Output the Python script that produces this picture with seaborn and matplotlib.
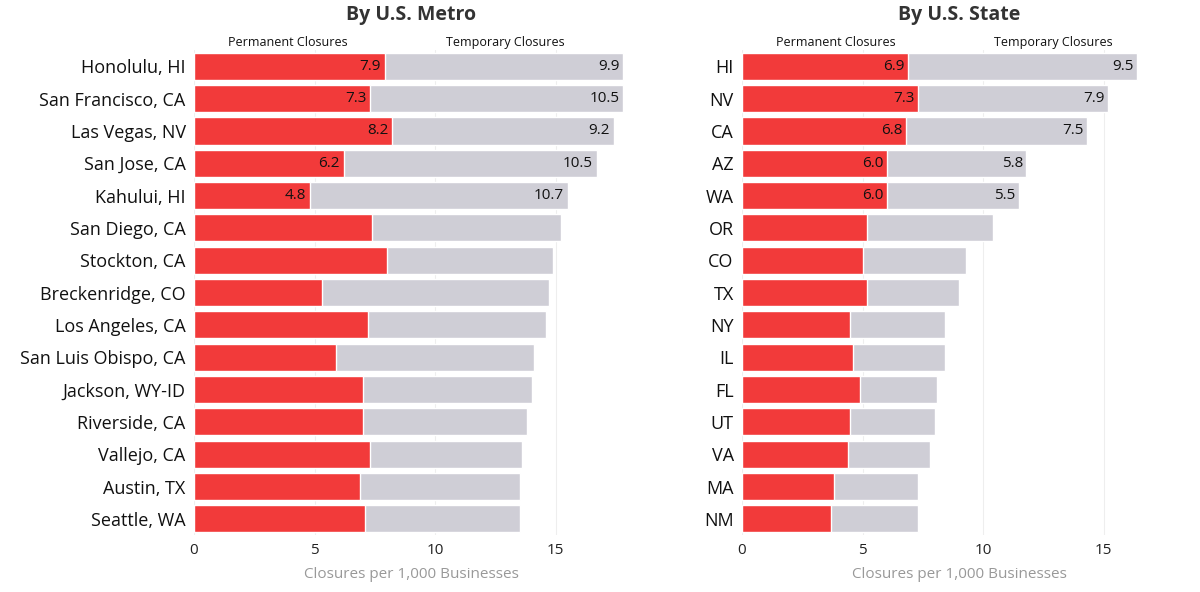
import matplotlib
matplotlib.use("Agg")
import matplotlib.pyplot as plt
import seaborn as sns
import pandas as pd

metros = ["Honolulu, HI","San Francisco, CA","Las Vegas, NV","San Jose, CA","Kahului, HI","San Diego, CA",
          "Stockton, CA","Breckenridge, CO","Los Angeles, CA","San Luis Obispo, CA","Jackson, WY-ID",
          "Riverside, CA","Vallejo, CA","Austin, TX","Seattle, WA"]
metro_perm = [7.9,7.3,8.2,6.2,4.8,7.4,8.0,5.3,7.2,5.9,7.0,7.0,7.3,6.9,7.1]
metro_temp = [9.9,10.5,9.2,10.5,10.7,7.8,6.9,9.4,7.4,8.2,7.0,6.8,6.3,6.6,6.4]
metro_labeled = 5

states = ["HI","NV","CA","AZ","WA","OR","CO","TX","NY","IL","FL","UT","VA","MA","NM"]
state_perm = [6.9,7.3,6.8,6.0,6.0,5.2,5.0,5.2,4.5,4.6,4.9,4.5,4.4,3.8,3.7]
state_temp = [9.5,7.9,7.5,5.8,5.5,5.2,4.3,3.8,3.9,3.8,3.2,3.5,3.4,3.5,3.6]
state_labeled = 5

sns.set_style("white")
plt.rcParams['font.family'] = ['Open Sans', 'DejaVu Sans']

RED = "#f23a3a"
GRAY = "#cfced6"

fig = plt.figure(figsize=(12, 5.92), dpi=100)
axL = fig.add_axes([0.1617, 0.0963, 0.3617, 0.819])
axR = fig.add_axes([0.6183, 0.0963, 0.3617, 0.819])

def draw(ax, cats, perm, temp, nlab, title):
    df = pd.DataFrame({"cat": cats, "perm": perm, "total": [p + t for p, t in zip(perm, temp)]})
    sns.barplot(data=df, y="cat", x="total", color=GRAY, saturation=1, width=0.84, ax=ax, orient="h")
    sns.barplot(data=df, y="cat", x="perm", color=RED, saturation=1, width=0.84, ax=ax, orient="h")
    ax.set_xlim(0, 18)
    ax.set_ylim(len(cats) - 0.5, -0.5)
    ax.set_xticks([0, 5, 10, 15])
    ax.tick_params(axis="x", labelsize=11, length=0, pad=6, colors="#222222")
    ax.tick_params(axis="y", labelsize=13, length=0, pad=6, colors="#111111")
    ax.set_ylabel("")
    ax.set_xlabel("Closures per 1,000 Businesses", fontsize=11, color="#999999", labelpad=6)
    ax.grid(axis="x", color="#eeeeee", lw=0.8)
    ax.set_axisbelow(True)
    for s in ax.spines.values():
        s.set_visible(False)
    for i in range(nlab):
        ax.text(perm[i] - 0.15, i, f"{perm[i]:.1f}", ha="right", va="center", fontsize=11, color="#111111")
        ax.text(perm[i] + temp[i] - 0.15, i, f"{temp[i]:.1f}", ha="right", va="center", fontsize=11, color="#111111")
    ax.text(3.9, -0.55, "Permanent Closures", ha="center", va="bottom", fontsize=9, color="#111111")
    ax.text(12.9, -0.55, "Temporary Closures", ha="center", va="bottom", fontsize=9, color="#111111")
    ax.set_title(title, fontsize=14, fontweight="bold", color="#333333", pad=22)

draw(axL, metros, metro_perm, metro_temp, metro_labeled, "By U.S. Metro")
draw(axR, states, state_perm, state_temp, state_labeled, "By U.S. State")

fig.savefig("out.png", dpi=100)
